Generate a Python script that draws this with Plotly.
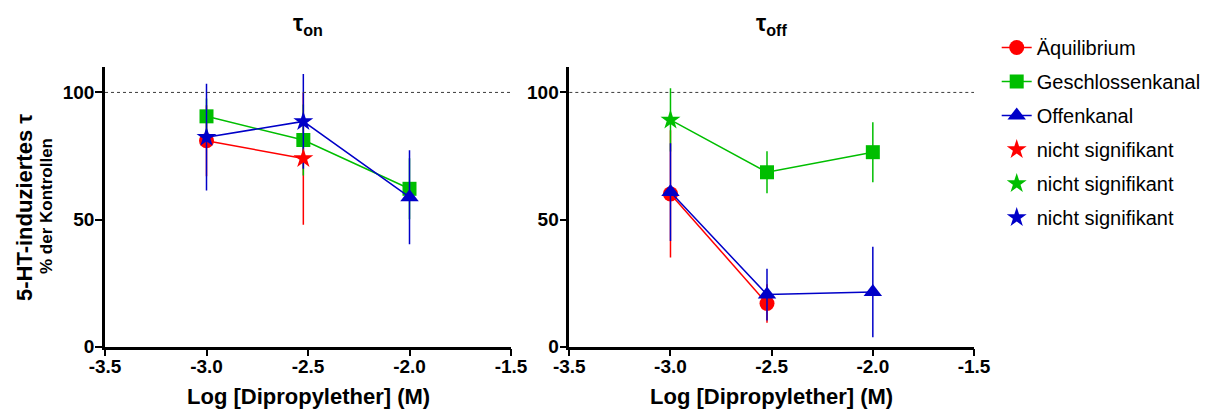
import plotly.graph_objects as go

# Concentrations (log M)
conc = [-3.0, -2.523, -2.0]

# tau_on, % of controls (mean and error)
aequi_on = [81.0, 74.0, None]
aequi_on_err = [14.0, 26.0, None]
geschl_on = [90.6, 81.3, 62.1]
geschl_on_err = [7.0, 14.0, 12.0]
offen_on = [82.4, 88.6, 58.8]
offen_on_err = [21.0, 18.6, 18.5]

# tau_off, % of controls (mean and error)
aequi_off = [60.1, 17.0, None]
aequi_off_err = [25.0, 7.6, None]
geschl_off = [89.2, 68.6, 76.5]
geschl_off_err = [12.4, 8.3, 11.8]
offen_off = [60.8, 20.5, 21.5]
offen_off_err = [19.2, 10.2, 17.8]

# points that are not significant (drawn as stars)
aequi_on_ns = [False, True, False]
geschl_on_ns = [False, False, False]
offen_on_ns = [True, True, False]
aequi_off_ns = [False, False, False]
geschl_off_ns = [True, False, False]
offen_off_ns = [False, False, False]

x_tick_vals = [-3.5, -3.0, -2.5, -2.0, -1.5]
x_tick_text = ["-3.5", "-3.0", "-2.5", "-2.0", "-1.5"]
y_tick_vals = [0, 50, 100]
y_tick_text = ["0", "50", "100"]

series_names = ["Äquilibrium", "Geschlossenkanal", "Offenkanal"]
ns_name = "nicht signifikant"

RED = "rgb(255,0,0)"
GREEN = "rgb(0,190,0)"
BLUE = "rgb(0,0,200)"
FONT = "Liberation Sans, Arial, sans-serif"

fig = go.Figure()

panels = [
    ("x", "y", [(aequi_on, aequi_on_err, aequi_on_ns),
                (geschl_on, geschl_on_err, geschl_on_ns),
                (offen_on, offen_on_err, offen_on_ns)]),
    ("x2", "y2", [(aequi_off, aequi_off_err, aequi_off_ns),
                  (geschl_off, geschl_off_err, geschl_off_ns),
                  (offen_off, offen_off_err, offen_off_ns)]),
]
colors = [RED, GREEN, BLUE]
symbols = ["circle", "square", "triangle-up"]
sizes = [15, 14, 16]

# main series: lines, markers and error bars; non-significant points hide
# their own marker (a star is drawn there instead)
for pi, (xa, ya, data) in enumerate(panels):
    for si, (vals, errs, ns) in enumerate(data):
        shown = [i for i, flag in enumerate(ns) if not flag]
        fig.add_trace(go.Scatter(
            x=conc, y=vals, xaxis=xa, yaxis=ya,
            mode="lines+markers",
            name=series_names[si],
            legendgroup=f"g{si}", legendrank=si + 1,
            showlegend=(pi == 0),
            connectgaps=False,
            line=dict(color=colors[si], width=1.5),
            marker=dict(symbol=symbols[si], size=sizes[si], color=colors[si],
                        line=dict(width=0)),
            selectedpoints=shown,
            selected=dict(marker=dict(opacity=1)),
            unselected=dict(marker=dict(opacity=0)),
            error_y=dict(type="data", array=[e if e is not None else 0 for e in errs],
                         color=colors[si], thickness=1.5, width=0, visible=True),
            cliponaxis=False,
        ))

# stars for non-significant points
ns_legend_panel = {0: 0, 1: 1, 2: 0}
for si in range(3):
    for pi, (xa, ya, data) in enumerate(panels):
        vals, errs, ns = data[si]
        xs = [c for c, f in zip(conc, ns) if f]
        ys = [v for v, f in zip(vals, ns) if f]
        if not xs:
            continue
        fig.add_trace(go.Scatter(
            x=xs, y=ys, xaxis=xa, yaxis=ya,
            mode="markers",
            name=ns_name,
            legendgroup=f"s{si}", legendrank=4 + si,
            showlegend=(ns_legend_panel[si] == pi),
            marker=dict(symbol="star", size=15, color=colors[si], line=dict(width=0)),
            cliponaxis=False,
        ))

axis_common = dict(
    showline=True, linecolor="black", linewidth=2.5,
    ticks="outside", ticklen=7, tickwidth=2, tickcolor="black",
    showgrid=False, zeroline=False, automargin=False,
    tickfont=dict(family=FONT, size=19, color="black", weight="bold"),
)
x_axis_extra = dict(ticklabelstandoff=-6)
y_axis_extra = dict(ticklabelstandoff=-3)

y0, y1 = 1 - 346.7 / 415, 1 - 67 / 415
fig.update_layout(
    width=1224, height=415,
    margin=dict(l=0, r=0, t=0, b=0, pad=0, autoexpand=False),
    paper_bgcolor="white", plot_bgcolor="white",
    xaxis=dict(domain=[105 / 1224, 511 / 1224], range=[-3.5, -1.5],
               tickvals=x_tick_vals, ticktext=x_tick_text, anchor="y",
               **axis_common, **x_axis_extra),
    yaxis=dict(domain=[y0, y1], range=[0, 110],
               tickvals=y_tick_vals, ticktext=y_tick_text, anchor="x",
               **axis_common, **y_axis_extra),
    xaxis2=dict(domain=[569.3 / 1224, 974 / 1224], range=[-3.5, -1.5],
                tickvals=x_tick_vals, ticktext=x_tick_text, anchor="y2",
                **axis_common, **x_axis_extra),
    yaxis2=dict(domain=[y0, y1], range=[0, 110],
                tickvals=y_tick_vals, ticktext=y_tick_text, anchor="x2",
                **axis_common, **y_axis_extra),
    showlegend=True,
    legend=dict(x=0.8143, y=1 - 28 / 415, xanchor="left", yanchor="top",
                font=dict(family=FONT, size=20, color="black"),
                tracegroupgap=5,
                bgcolor="rgba(0,0,0,0)"),
)

# dotted reference line at 100 %
for xr, yr in [("x", "y"), ("x2", "y2")]:
    fig.add_shape(type="line", xref=f"{xr} domain", yref=yr, x0=0, x1=1, y0=100, y1=100,
                  line=dict(color="rgb(60,60,60)", width=1, dash="dot"))

# panel titles and x axis titles
for xr, sub in [("x", "on"), ("x2", "off")]:
    fig.add_annotation(xref=f"{xr} domain", yref="paper", x=0.5, y=1 - 25 / 415,
                       xanchor="center", yanchor="middle",
                       text=f"τ<sub>{sub}</sub>", showarrow=False,
                       font=dict(family=FONT, size=23, color="black", weight="bold"))
    fig.add_annotation(xref=f"{xr} domain", yref="paper", x=0.5, y=1 - 396 / 415,
                       xanchor="center", yanchor="middle",
                       text="Log [Dipropylether] (M)", showarrow=False,
                       font=dict(family=FONT, size=22, color="black", weight="bold"))

# y axis titles
fig.add_annotation(xref="paper", yref="paper", x=24 / 1224, y=1 - 208 / 415,
                   xanchor="center", yanchor="middle",
                   text="5-HT-induziertes τ", textangle=-90, showarrow=False,
                   font=dict(family=FONT, size=22, color="black", weight="bold"))
fig.add_annotation(xref="paper", yref="paper", x=46 / 1224, y=1 - 206 / 415,
                   xanchor="center", yanchor="middle",
                   text="% der Kontrollen", textangle=-90, showarrow=False,
                   font=dict(family=FONT, size=17, color="black", weight="bold"))

fig.write_html("out.html")
